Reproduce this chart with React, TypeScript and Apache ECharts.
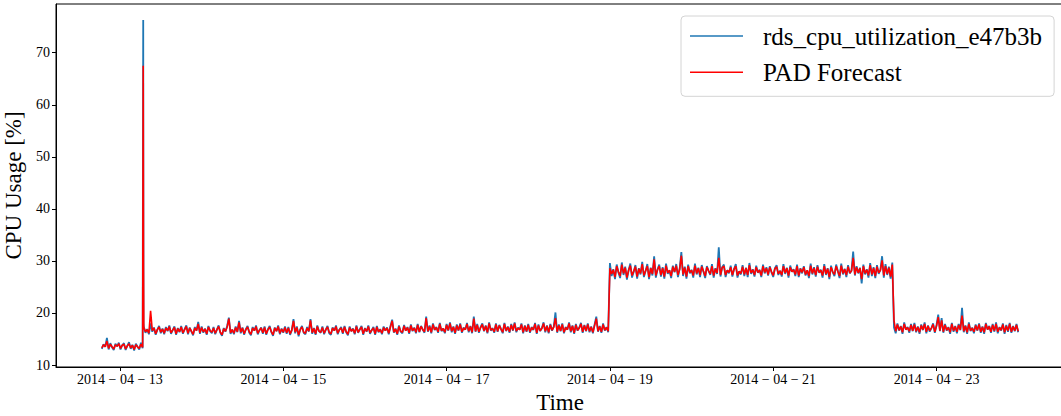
import React, { useEffect, useRef } from "react";
import * as echarts from "echarts";

// ---- data: half-hourly readings ----
const segmentStarts = [
  "2014-04-12T18:40:00Z", // low regime
  "2014-04-13T07:00:00Z", // ~16-17 % regime
  "2014-04-19T00:00:00Z", // ~28 % regime
  "2014-04-22T11:30:00Z", // ~17 % regime
];
const stepMinutes = 30;

const lowActual = [
  13.1, 14.0, 13.5, 15.2, 13.0, 14.2, 13.4, 12.9, 14.1, 13.6, 14.3, 13.0,
  13.8, 14.2, 12.9, 13.7, 14.4, 13.1, 13.9, 12.8, 14.1, 13.5, 13.0, 14.3, 13.2,
];
const lowForecast = [
  13.3, 13.9, 13.5, 14.6, 13.2, 14.0, 13.5, 13.1, 13.9, 13.6, 14.1, 13.2,
  13.8, 14.0, 13.1, 13.7, 14.1, 13.3, 13.8, 13.0, 13.9, 13.5, 13.2, 14.0, 13.4,
];

const spikeTimes = ["2014-04-13T06:50:00Z", "2014-04-13T06:55:00Z"];
const spikeActual = [76.3, 18.0];
const spikeForecast = [67.5, 28.9];

const midActual = [
  17.4, 16.2, 16.9, 15.9, 18.0, 16.4, 17.2, 15.8, 16.8, 17.5, 16.1, 17.0,
  15.9, 17.3, 16.5, 17.6, 16.0, 16.7, 17.4, 15.8, 17.1, 16.3, 17.5, 16.0,
  16.9, 17.6, 15.9, 17.2, 16.4, 15.7, 17.3, 16.6, 18.3, 16.0, 17.4, 16.2,
  17.0, 15.8, 17.5, 16.5, 16.1, 17.3, 15.9, 16.8, 17.6, 16.2, 15.6, 17.1,
  16.4, 17.5, 19.1, 16.0, 16.8, 15.9, 17.4, 16.3, 18.5, 16.1, 17.2, 15.8,
  16.9, 17.5, 16.2, 15.7, 17.3, 16.6, 17.6, 15.9, 16.7, 17.2, 16.0, 17.4,
  15.8, 16.9, 17.5, 16.3, 15.6, 17.2, 16.5, 17.6, 15.9, 17.0, 16.2, 17.4,
  16.0, 17.3, 15.8, 16.7, 18.8, 16.1, 17.4, 15.5, 16.9, 17.5, 16.2, 15.9,
  17.3, 16.4, 18.8, 16.0, 17.1, 15.8, 17.6, 16.5, 16.2, 17.4, 15.9, 16.8,
  17.5, 16.1, 15.8, 17.2, 16.6, 17.6, 15.9, 16.8, 17.3, 16.0, 17.5, 16.3,
  15.7, 17.4, 16.5, 17.0, 15.9, 17.6, 16.2, 16.9, 17.5, 15.8, 17.1, 16.4,
  17.6, 16.0, 16.7, 17.3, 15.8, 17.5, 16.3, 16.9, 15.9, 17.4, 16.6, 17.2,
  15.9, 17.5, 18.7, 16.2, 17.0, 15.8, 17.6, 16.4, 16.1, 17.7, 16.6, 17.3,
  16.0, 17.8, 16.5, 17.2, 16.1, 17.9, 16.3, 17.5, 16.8, 16.2, 19.3, 16.4,
  17.6, 16.1, 18.0, 16.7, 17.3, 16.2, 18.1, 16.5, 17.0, 16.1, 17.9, 16.6,
  18.2, 16.3, 17.4, 16.0, 17.8, 16.6, 18.0, 16.2, 17.2, 16.8, 18.1, 16.3,
  17.5, 16.1, 19.3, 16.4, 17.9, 16.2, 17.3, 18.0, 16.5, 17.6, 16.1, 18.2,
  16.6, 17.1, 16.2, 18.0, 16.4, 17.7, 16.9, 16.1, 18.1, 16.5, 17.4, 16.2,
  17.9, 16.6, 18.2, 16.3, 17.2, 16.8, 18.0, 16.1, 17.6, 16.4, 17.9, 16.2,
  17.3, 16.7, 18.1, 16.0, 17.8, 16.5, 17.1, 18.2, 16.3, 17.6, 16.1, 17.9,
  16.6, 17.4, 20.1, 16.2, 17.8, 16.5, 18.0, 16.1, 17.3, 16.8, 18.2, 16.3,
  17.6, 16.0, 17.9, 16.6, 17.2, 18.1, 16.2, 17.7, 16.5, 18.0, 16.3, 17.4,
  16.1, 17.8, 19.3, 16.4, 17.5, 16.2, 18.0, 16.6, 17.3, 16.3,
];
const midForecast = [
  17.2, 16.4, 16.8, 16.1, 20.4, 16.6, 17.1, 16.0, 16.8, 17.3, 16.3, 16.9,
  16.1, 17.1, 16.6, 17.4, 16.2, 16.7, 17.2, 16.0, 17.0, 16.4, 17.3, 16.2,
  16.8, 17.4, 16.1, 17.1, 16.5, 15.9, 17.1, 16.6, 17.9, 16.2, 17.2, 16.4,
  16.9, 16.0, 17.3, 16.6, 16.3, 17.1, 16.1, 16.8, 17.4, 16.3, 15.8, 17.0,
  16.5, 17.3, 18.9, 16.2, 16.8, 16.1, 17.2, 16.4, 18.2, 16.3, 17.1, 16.0,
  16.8, 17.3, 16.4, 15.9, 17.1, 16.6, 17.4, 16.1, 16.7, 17.1, 16.2, 17.2,
  16.0, 16.8, 17.3, 16.4, 15.8, 17.1, 16.5, 17.4, 16.1, 16.9, 16.3, 17.2,
  16.2, 17.1, 16.0, 16.7, 18.5, 16.3, 17.2, 15.8, 16.8, 17.3, 16.3, 16.1,
  17.1, 16.5, 18.6, 16.2, 17.0, 16.0, 17.4, 16.5, 16.3, 17.2, 16.1, 16.8,
  17.3, 16.3, 16.0, 17.1, 16.6, 17.4, 16.1, 16.8, 17.1, 16.2, 17.3, 16.4,
  15.9, 17.2, 16.5, 16.9, 16.1, 17.4, 16.3, 16.8, 17.3, 16.0, 17.0, 16.5,
  17.4, 16.2, 16.7, 17.1, 16.0, 17.3, 16.4, 16.8, 16.1, 17.2, 16.6, 17.1,
  16.1, 17.3, 18.5, 16.3, 16.9, 16.0, 17.4, 16.5, 16.3, 17.5, 16.6, 17.2,
  16.2, 17.6, 16.6, 17.1, 16.3, 17.7, 16.4, 17.4, 16.8, 16.4, 19.0, 16.5,
  17.4, 16.3, 17.8, 16.8, 17.2, 16.4, 17.9, 16.6, 17.0, 16.3, 17.7, 16.7,
  18.0, 16.5, 17.3, 16.2, 17.6, 16.7, 17.8, 16.4, 17.1, 16.8, 17.9, 16.5,
  17.4, 16.3, 18.9, 16.5, 17.7, 16.4, 17.2, 17.8, 16.6, 17.5, 16.3, 18.0,
  16.7, 17.0, 16.4, 17.8, 16.5, 17.6, 16.9, 16.3, 17.9, 16.6, 17.3, 16.4,
  17.7, 16.7, 18.0, 16.5, 17.1, 16.8, 17.8, 16.3, 17.5, 16.5, 17.7, 16.4,
  17.2, 16.8, 17.9, 16.2, 17.6, 16.6, 17.0, 18.0, 16.5, 17.5, 16.3, 17.7,
  16.7, 17.3, 19.0, 16.4, 17.6, 16.6, 17.8, 16.3, 17.2, 16.8, 18.0, 16.5,
  17.5, 16.2, 17.7, 16.7, 17.1, 17.9, 16.4, 17.6, 16.6, 17.8, 16.5, 17.3,
  16.3, 17.6, 18.9, 16.5, 17.4, 16.4, 17.8, 16.7, 17.2, 16.5,
];

const highActual = [
  29.6, 27.1, 28.4, 26.5, 29.3, 27.8, 26.7, 29.7, 27.3, 28.9, 26.4, 28.2,
  29.5, 26.8, 27.9, 29.2, 26.6, 28.6, 27.4, 29.8, 26.9, 28.1, 29.4, 26.5,
  28.7, 27.2, 30.9, 26.8, 28.4, 29.3, 27.0, 28.8, 26.6, 29.5, 27.5, 28.2,
  26.7, 29.1, 27.8, 29.4, 26.9, 28.5, 31.7, 27.1, 28.9, 26.6, 29.3, 27.6,
  28.3, 26.8, 29.5, 27.4, 28.7, 26.9, 29.2, 27.9, 26.7, 29.0, 28.1, 27.3,
  29.4, 26.8, 28.6, 27.5, 32.6, 27.0, 28.8, 29.3, 26.9, 28.2, 27.6, 29.1,
  27.0, 28.5, 29.4, 26.8, 28.0, 27.4, 29.2, 27.1, 28.7, 26.9, 29.6, 27.5,
  28.4, 27.0, 29.1, 27.7, 28.3, 26.9, 29.3, 27.6, 28.8, 27.2, 29.0, 27.8,
  26.9, 28.6, 29.2, 27.3, 28.1, 27.0, 29.4, 27.5, 28.7, 26.8, 29.1, 27.9,
  28.4, 27.1, 29.3, 26.9, 28.6, 27.6, 29.0, 27.2, 28.2, 26.7, 29.5, 27.4,
  28.8, 27.0, 29.2, 27.7, 28.3, 26.8, 29.4, 27.3, 28.6, 26.5, 29.1, 27.8,
  27.1, 29.3, 28.0, 26.7, 29.5, 27.4, 28.5, 26.9, 29.2, 27.6, 28.1, 31.8,
  27.2, 29.0, 27.6, 28.7, 25.7, 29.3, 27.4, 28.4, 26.8, 29.6, 27.1, 28.8,
  26.7, 29.2, 27.5, 28.3, 30.9, 26.8, 29.4, 27.3, 28.9, 26.6, 29.7,
];
const highForecast = [
  28.6, 27.5, 28.3, 26.9, 29.0, 27.9, 27.1, 29.3, 27.6, 28.7, 26.8, 28.2,
  29.1, 27.2, 28.0, 28.9, 27.0, 28.5, 27.6, 29.4, 27.2, 28.1, 29.0, 26.9,
  28.6, 27.5, 30.3, 27.2, 28.3, 29.0, 27.3, 28.6, 27.0, 29.1, 27.7, 28.2,
  27.1, 28.9, 27.9, 29.1, 27.3, 28.4, 31.0, 27.4, 28.7, 27.0, 29.0, 27.8,
  28.2, 27.2, 29.1, 27.6, 28.6, 27.3, 28.9, 28.0, 27.1, 28.8, 28.1, 27.5,
  29.0, 27.2, 28.5, 27.7, 30.6, 27.3, 28.7, 29.0, 27.3, 28.2, 27.8, 28.8,
  27.3, 28.4, 29.0, 27.2, 28.0, 27.6, 28.9, 27.4, 28.6, 27.3, 29.2, 27.7,
  28.3, 27.3, 28.8, 27.8, 28.2, 27.2, 29.0, 27.8, 28.6, 27.4, 28.8, 27.9,
  27.2, 28.5, 28.9, 27.5, 28.1, 27.3, 29.0, 27.7, 28.6, 27.2, 28.8, 27.9,
  28.3, 27.4, 29.0, 27.2, 28.5, 27.8, 28.8, 27.4, 28.2, 27.1, 29.1, 27.6,
  28.6, 27.3, 28.9, 27.8, 28.2, 27.2, 29.0, 27.5, 28.5, 26.9, 28.8, 27.9,
  27.4, 29.0, 28.0, 27.1, 29.1, 27.6, 28.4, 27.3, 28.9, 27.7, 28.1, 30.6,
  27.4, 28.8, 27.7, 28.6, 26.5, 29.0, 27.6, 28.3, 27.2, 29.2, 27.4, 28.6,
  27.1, 28.9, 27.7, 28.2, 30.1, 27.2, 29.0, 27.5, 28.7, 27.0, 29.3,
];

const endActual = [
  17.2, 16.1, 18.0, 16.6, 17.5, 16.0, 18.2, 16.8, 17.3, 16.2, 17.9, 16.5,
  18.1, 16.3, 17.4, 16.0, 17.8, 16.7, 18.2, 16.1, 17.6, 16.4, 17.1, 18.0,
  16.2, 17.7, 19.7, 16.5, 19.0, 16.2, 17.9, 16.6, 17.3, 16.0, 18.1, 16.4,
  17.5, 16.1, 17.9, 16.7, 21.0, 16.3, 17.6, 16.0, 18.2, 16.5, 17.2, 16.1,
  17.8, 16.6, 18.0, 16.2, 17.4, 16.0, 18.1, 16.8, 17.5, 16.2, 17.9, 16.4,
  18.2, 16.1, 17.3, 16.6, 18.0, 16.0, 17.7, 16.4, 18.1, 16.2, 17.5, 16.5,
  17.9, 16.3,
];
const endForecast = [
  18.6, 16.5, 17.8, 16.7, 17.4, 16.3, 17.9, 16.8, 17.2, 16.5, 17.7, 16.6,
  17.8, 16.5, 17.3, 16.3, 17.6, 16.8, 17.9, 16.4, 17.5, 16.6, 17.1, 17.8,
  16.4, 17.5, 19.2, 16.6, 18.6, 16.4, 17.7, 16.7, 17.2, 16.3, 17.9, 16.6,
  17.4, 16.4, 17.7, 16.8, 19.5, 16.5, 17.5, 16.3, 17.9, 16.6, 17.1, 16.4,
  17.6, 16.7, 17.8, 16.4, 17.3, 16.3, 17.9, 16.8, 17.4, 16.4, 17.7, 16.6,
  17.9, 16.4, 17.2, 16.7, 17.8, 16.3, 17.5, 16.6, 17.9, 16.4, 17.4, 16.6,
  17.7, 16.5,
];

const xTickDates = ["2014-04-13", "2014-04-15", "2014-04-17", "2014-04-19", "2014-04-21", "2014-04-23"];
const yTickValues = [10, 20, 30, 40, 50, 60, 70];
const seriesNames = ["rds_cpu_utilization_e47b3b", "PAD Forecast"];
const xRange = ["2014-04-12T05:12:00Z", "2014-04-24T13:28:00Z"];
const yRange = [9.62, 79.36];

function onGrid(start: string, values: number[]): [number, number][] {
  const t0 = Date.parse(start);
  const step = stepMinutes * 60 * 1000;
  return values.map((v, i) => [t0 + i * step, v] as [number, number]);
}

function buildSeries(low: number[], spike: number[], mid: number[], high: number[], end: number[]) {
  const spikePts = spikeTimes.map((t, i) => [Date.parse(t), spike[i]] as [number, number]);
  return [
    ...onGrid(segmentStarts[0], low),
    ...spikePts,
    ...onGrid(segmentStarts[1], mid),
    ...onGrid(segmentStarts[2], high),
    ...onGrid(segmentStarts[3], end),
  ];
}

const FONT = "'Liberation Serif', 'Times New Roman', serif";

export default function App() {
  const ref = useRef<HTMLDivElement>(null);

  useEffect(() => {
    if (!ref.current) return;
    const chart = echarts.init(ref.current, undefined, { renderer: "svg" });
    const actual = buildSeries(lowActual, spikeActual, midActual, highActual, endActual);
    const forecast = buildSeries(lowForecast, spikeForecast, midForecast, highForecast, endForecast);
    const xTicks = xTickDates.map((d) => Date.parse(d + "T00:00:00Z"));

    chart.setOption({
      animation: false,
      backgroundColor: "#ffffff",
      grid: {
        left: 56,
        right: -3,
        top: 4,
        bottom: 49,
        show: true,
        borderColor: "#000",
        borderWidth: 1,
        containLabel: false,
        outerBoundsMode: "none",
      },
      legend: {
        data: seriesNames,
        orient: "vertical",
        left: 681,
        top: 16,
        icon: "rect",
        itemWidth: 53,
        itemHeight: 1.6,
        itemGap: 6.3,
        padding: [5, 12, 9, 9],
        backgroundColor: "rgba(255,255,255,0.85)",
        borderColor: "#d4d4d4",
        borderWidth: 1,
        borderRadius: 4,
        textStyle: {
          fontFamily: FONT,
          fontSize: 25,
          color: "#000",
          lineHeight: 30,
          padding: [0, 0, 0, 15],
        },
      },
      xAxis: {
        type: "value",
        min: Date.parse(xRange[0]),
        max: Date.parse(xRange[1]),
        name: "Time",
        nameLocation: "middle",
        nameGap: 15,
        nameTextStyle: { fontFamily: FONT, fontSize: 23, color: "#000" },
        axisLine: { show: true, onZero: false, lineStyle: { color: "#000", width: 1 } },
        axisTick: { show: true, length: 4, inside: false, lineStyle: { color: "#000" }, customValues: xTicks },
        axisLabel: {
          customValues: xTicks,
          margin: 5,
          fontFamily: FONT,
          fontSize: 14,
          color: "#000",
          formatter: (v: number) => {
            const d = new Date(v);
            const mm = String(d.getUTCMonth() + 1).padStart(2, "0");
            const dd = String(d.getUTCDate()).padStart(2, "0");
            return `${d.getUTCFullYear()} \u2212 ${mm} \u2212 ${dd}`;
          },
        },
        splitLine: { show: false },
      },
      yAxis: {
        type: "value",
        min: yRange[0],
        max: yRange[1],
        name: "CPU Usage [%]",
        nameLocation: "middle",
        nameGap: 23,
        nameTextStyle: { fontFamily: FONT, fontSize: 23, color: "#000" },
        axisLine: { show: true, onZero: false, lineStyle: { color: "#000", width: 1 } },
        axisTick: { show: true, length: 4, inside: false, lineStyle: { color: "#000" }, customValues: yTickValues },
        axisLabel: {
          customValues: yTickValues,
          margin: 6,
          fontFamily: FONT,
          fontSize: 14,
          color: "#000",
        },
        splitLine: { show: false },
      },
      series: [
        {
          name: seriesNames[0],
          type: "line",
          data: actual,
          showSymbol: false,
          symbol: "none",
          lineStyle: { color: "#1f77b4", width: 1.8 },
          itemStyle: { color: "#1f77b4" },
          z: 2,
        },
        {
          name: seriesNames[1],
          type: "line",
          data: forecast,
          showSymbol: false,
          symbol: "none",
          lineStyle: { color: "#ff0000", width: 1.6 },
          itemStyle: { color: "#ff0000" },
          z: 3,
        },
      ],
    });

    return () => chart.dispose();
  }, []);

  return (
    <div
      ref={ref}
      style={{ position: "fixed", left: 0, top: 0, width: 1061, height: 416, background: "#fff" }}
    />
  );
}
